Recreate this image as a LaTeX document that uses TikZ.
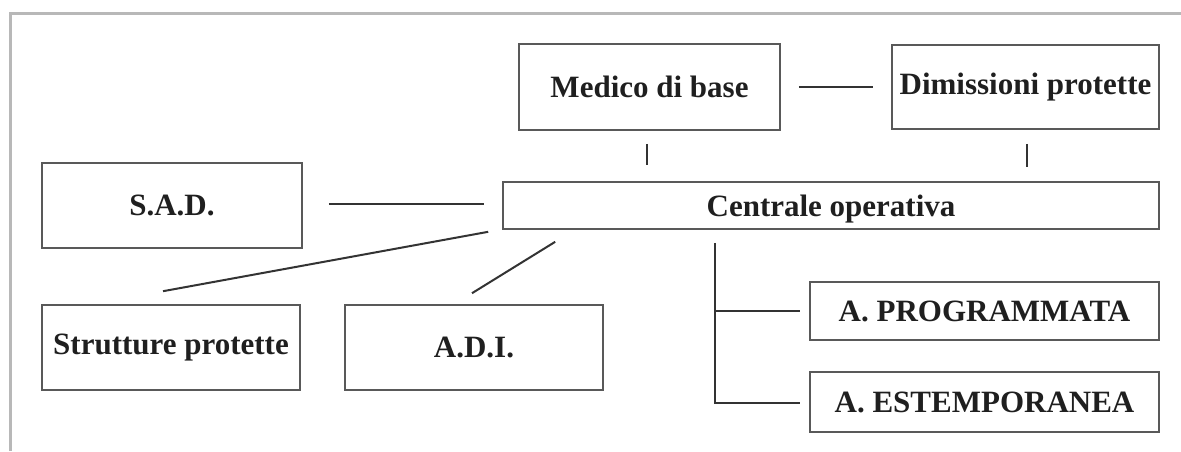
\documentclass[tikz,border=0pt]{standalone}
\usepackage{fontspec}
\setmainfont{Liberation Serif}
\begin{document}
\begin{tikzpicture}[x=0.5pt,y=-0.5pt,
  box/.style={draw=black!65, line width=0.8pt, inner sep=0pt, font=\fontsize{15.5}{18}\selectfont\bfseries, text=black!88},
  link/.style={draw=black!80, line width=1pt},
  frame/.style={draw=black!28, line width=1.5pt}]
\useasboundingbox (0,0) rectangle (1181,451);
\draw[frame] (10,451) -- (10,13) -- (1181,13);
\node[box, minimum width=130.5pt, minimum height=43pt] (med) at (649.5,87) {Medico di base};
\node[box, minimum width=133.5pt, minimum height=42pt] (dim) at (1025.5,87) {Dimissioni protette};
\node[box, minimum width=328pt, minimum height=23.5pt, text depth=1pt] (cen) at (831,205.5) {\raisebox{-1.5pt}{Centrale operativa}};
\node[box, minimum width=130pt, minimum height=42.5pt] (sad) at (172,205.5) {S.A.D.};
\node[box, minimum width=129pt, minimum height=42.5pt] (str) at (171,347.5) {Strutture protette};
\node[box, minimum width=129pt, minimum height=42.5pt] (adi) at (474,347.5) {A.D.I.};
\node[box, minimum width=174.5pt, minimum height=29pt] (prog) at (984.5,311) {A. PROGRAMMATA};
\node[box, minimum width=174.5pt, minimum height=30pt] (est) at (984.5,402) {A. ESTEMPORANEA};
\draw[link, shorten <=9pt, shorten >=9pt] (med.east) -- (dim.west);
\draw[link, shorten <=6.5pt, shorten >=8pt] ([shift={(-2.5,0)}]med.south) -- ([shift={(-2.5,0)}]med.south |- cen.north);
\draw[link, shorten <=7pt, shorten >=7pt] ([shift={(1.5,0)}]dim.south) -- ([shift={(1.5,0)}]dim.south |- cen.north);
\draw[link, shorten <=13pt, shorten >=9pt] ([shift={(0,-1.5)}]sad.east) -- ([shift={(0,-1.5)}]cen.west);
\draw[link] ([shift={(-8,-13)}]str.north) -- ([shift={(-14,2)}]cen.south west);
\draw[link] ([shift={(-2,-11)}]adi.north) -- ([shift={(53,12)}]cen.south west);
\coordinate (t0) at ([shift={(213,13)}]cen.south west);
\draw[link] (t0) |- ([shift={(-9,1)}]est.west);
\draw[link] (t0 |- prog.west) -- ([shift={(-9,0)}]prog.west);
\end{tikzpicture}
\end{document}
